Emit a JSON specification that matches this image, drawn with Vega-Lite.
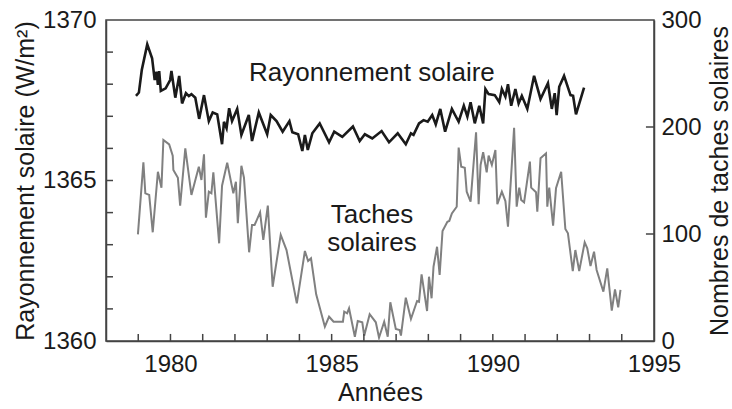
{
  "$schema": "https://vega.github.io/schema/vega-lite/v6.json",
  "width": 548,
  "height": 321,
  "autosize": "none",
  "padding": {"left": 106, "top": 20, "right": 78, "bottom": 68},
  "background": "white",
  "config": {
    "view": {"stroke": "#444", "strokeWidth": 1.5},
    "axis": {
      "labelFont": "Liberation Sans",
      "titleFont": "Liberation Sans",
      "labelFontSize": 24,
      "titleFontSize": 25,
      "titleFontWeight": "normal",
      "labelColor": "#1a1a1a",
      "titleColor": "#1a1a1a",
      "domainColor": "#444",
      "domainWidth": 1.5,
      "ticks": false,
      "grid": false,
      "labelFlush": false,
      "labelOverlap": false
    },
    "text": {"font": "Liberation Sans"}
  },
  "datasets": {
    "irr": [
      {"year": 1978.93, "irradiance": 1367.64},
      {"year": 1979.02, "irradiance": 1367.74},
      {"year": 1979.11, "irradiance": 1368.44},
      {"year": 1979.28, "irradiance": 1369.24},
      {"year": 1979.43, "irradiance": 1368.81},
      {"year": 1979.51, "irradiance": 1368.13},
      {"year": 1979.57, "irradiance": 1368.39},
      {"year": 1979.61, "irradiance": 1367.98},
      {"year": 1979.65, "irradiance": 1368.41},
      {"year": 1979.70, "irradiance": 1367.79},
      {"year": 1979.85, "irradiance": 1367.87},
      {"year": 1979.99, "irradiance": 1368.13},
      {"year": 1980.03, "irradiance": 1368.41},
      {"year": 1980.15, "irradiance": 1367.58},
      {"year": 1980.27, "irradiance": 1368.26},
      {"year": 1980.36, "irradiance": 1367.40},
      {"year": 1980.48, "irradiance": 1367.72},
      {"year": 1980.57, "irradiance": 1367.63},
      {"year": 1980.65, "irradiance": 1367.69},
      {"year": 1980.77, "irradiance": 1367.58},
      {"year": 1980.89, "irradiance": 1366.92},
      {"year": 1981.04, "irradiance": 1367.66},
      {"year": 1981.19, "irradiance": 1366.85},
      {"year": 1981.31, "irradiance": 1367.12},
      {"year": 1981.45, "irradiance": 1367.06},
      {"year": 1981.60, "irradiance": 1366.13},
      {"year": 1981.66, "irradiance": 1366.83},
      {"year": 1981.74, "irradiance": 1366.63},
      {"year": 1981.82, "irradiance": 1367.25},
      {"year": 1981.91, "irradiance": 1366.85},
      {"year": 1982.07, "irradiance": 1367.23},
      {"year": 1982.20, "irradiance": 1366.42},
      {"year": 1982.43, "irradiance": 1367.04},
      {"year": 1982.53, "irradiance": 1366.23},
      {"year": 1982.74, "irradiance": 1367.12},
      {"year": 1983.00, "irradiance": 1366.44},
      {"year": 1983.11, "irradiance": 1367.04},
      {"year": 1983.29, "irradiance": 1366.85},
      {"year": 1983.48, "irradiance": 1366.52},
      {"year": 1983.69, "irradiance": 1366.85},
      {"year": 1983.78, "irradiance": 1366.50},
      {"year": 1983.96, "irradiance": 1366.44},
      {"year": 1984.09, "irradiance": 1365.92},
      {"year": 1984.17, "irradiance": 1366.42},
      {"year": 1984.26, "irradiance": 1365.95},
      {"year": 1984.40, "irradiance": 1366.47},
      {"year": 1984.63, "irradiance": 1366.78},
      {"year": 1984.92, "irradiance": 1366.19},
      {"year": 1985.08, "irradiance": 1366.52},
      {"year": 1985.33, "irradiance": 1366.36},
      {"year": 1985.66, "irradiance": 1366.68},
      {"year": 1985.87, "irradiance": 1366.23},
      {"year": 1986.03, "irradiance": 1366.44},
      {"year": 1986.26, "irradiance": 1366.31},
      {"year": 1986.55, "irradiance": 1366.54},
      {"year": 1986.78, "irradiance": 1366.19},
      {"year": 1987.05, "irradiance": 1366.47},
      {"year": 1987.30, "irradiance": 1366.13},
      {"year": 1987.46, "irradiance": 1366.47},
      {"year": 1987.54, "irradiance": 1366.42},
      {"year": 1987.71, "irradiance": 1366.78},
      {"year": 1987.85, "irradiance": 1366.88},
      {"year": 1987.98, "irradiance": 1366.83},
      {"year": 1988.12, "irradiance": 1367.04},
      {"year": 1988.23, "irradiance": 1366.75},
      {"year": 1988.37, "irradiance": 1367.23},
      {"year": 1988.52, "irradiance": 1366.52},
      {"year": 1988.73, "irradiance": 1367.23},
      {"year": 1988.94, "irradiance": 1366.83},
      {"year": 1989.10, "irradiance": 1367.33},
      {"year": 1989.21, "irradiance": 1366.99},
      {"year": 1989.31, "irradiance": 1367.44},
      {"year": 1989.44, "irradiance": 1366.78},
      {"year": 1989.58, "irradiance": 1367.33},
      {"year": 1989.70, "irradiance": 1366.78},
      {"year": 1989.77, "irradiance": 1367.85},
      {"year": 1989.87, "irradiance": 1367.69},
      {"year": 1990.06, "irradiance": 1367.66},
      {"year": 1990.20, "irradiance": 1367.44},
      {"year": 1990.28, "irradiance": 1367.85},
      {"year": 1990.39, "irradiance": 1367.61},
      {"year": 1990.47, "irradiance": 1368.00},
      {"year": 1990.57, "irradiance": 1367.33},
      {"year": 1990.70, "irradiance": 1367.85},
      {"year": 1990.80, "irradiance": 1367.40},
      {"year": 1990.90, "irradiance": 1367.64},
      {"year": 1991.07, "irradiance": 1367.23},
      {"year": 1991.28, "irradiance": 1368.26},
      {"year": 1991.48, "irradiance": 1367.54},
      {"year": 1991.71, "irradiance": 1368.03},
      {"year": 1991.83, "irradiance": 1367.23},
      {"year": 1991.92, "irradiance": 1367.72},
      {"year": 1991.98, "irradiance": 1367.04},
      {"year": 1992.06, "irradiance": 1367.92},
      {"year": 1992.21, "irradiance": 1368.26},
      {"year": 1992.41, "irradiance": 1367.66},
      {"year": 1992.49, "irradiance": 1367.64},
      {"year": 1992.58, "irradiance": 1367.06},
      {"year": 1992.83, "irradiance": 1367.89}
    ],
    "spots": [
      {"year": 1978.99, "sunspots": 99.7},
      {"year": 1979.16, "sunspots": 167.0},
      {"year": 1979.22, "sunspots": 138.0},
      {"year": 1979.34, "sunspots": 136.5},
      {"year": 1979.45, "sunspots": 101.6},
      {"year": 1979.61, "sunspots": 158.2},
      {"year": 1979.72, "sunspots": 143.3},
      {"year": 1979.78, "sunspots": 187.9},
      {"year": 1979.96, "sunspots": 183.8},
      {"year": 1980.07, "sunspots": 173.2},
      {"year": 1980.09, "sunspots": 159.8},
      {"year": 1980.23, "sunspots": 152.6},
      {"year": 1980.30, "sunspots": 126.5},
      {"year": 1980.46, "sunspots": 180.1},
      {"year": 1980.65, "sunspots": 136.5},
      {"year": 1980.88, "sunspots": 162.9},
      {"year": 1980.96, "sunspots": 150.5},
      {"year": 1981.04, "sunspots": 174.5},
      {"year": 1981.10, "sunspots": 115.2},
      {"year": 1981.19, "sunspots": 139.5},
      {"year": 1981.27, "sunspots": 138.0},
      {"year": 1981.33, "sunspots": 157.7},
      {"year": 1981.51, "sunspots": 91.3},
      {"year": 1981.60, "sunspots": 145.1},
      {"year": 1981.76, "sunspots": 166.6},
      {"year": 1981.95, "sunspots": 138.0},
      {"year": 1982.03, "sunspots": 148.9},
      {"year": 1982.09, "sunspots": 110.0},
      {"year": 1982.20, "sunspots": 163.8},
      {"year": 1982.28, "sunspots": 152.6},
      {"year": 1982.44, "sunspots": 82.9},
      {"year": 1982.53, "sunspots": 108.4},
      {"year": 1982.61, "sunspots": 108.4},
      {"year": 1982.78, "sunspots": 120.3},
      {"year": 1982.88, "sunspots": 94.4},
      {"year": 1983.02, "sunspots": 126.5},
      {"year": 1983.17, "sunspots": 50.7},
      {"year": 1983.42, "sunspots": 99.1},
      {"year": 1983.60, "sunspots": 85.0},
      {"year": 1983.92, "sunspots": 35.2},
      {"year": 1984.17, "sunspots": 84.1},
      {"year": 1984.27, "sunspots": 74.8},
      {"year": 1984.36, "sunspots": 77.3},
      {"year": 1984.52, "sunspots": 43.6},
      {"year": 1984.79, "sunspots": 13.4},
      {"year": 1984.92, "sunspots": 22.7},
      {"year": 1985.06, "sunspots": 18.0},
      {"year": 1985.35, "sunspots": 18.0},
      {"year": 1985.39, "sunspots": 27.4},
      {"year": 1985.48, "sunspots": 25.9},
      {"year": 1985.54, "sunspots": 30.6},
      {"year": 1985.72, "sunspots": 4.0},
      {"year": 1985.81, "sunspots": 18.7},
      {"year": 1985.95, "sunspots": 17.5},
      {"year": 1986.01, "sunspots": 5.0},
      {"year": 1986.18, "sunspots": 25.0},
      {"year": 1986.37, "sunspots": 17.5},
      {"year": 1986.47, "sunspots": 3.1},
      {"year": 1986.63, "sunspots": 18.0},
      {"year": 1986.74, "sunspots": 4.0},
      {"year": 1986.82, "sunspots": 36.2},
      {"year": 1986.99, "sunspots": 11.2},
      {"year": 1987.11, "sunspots": 10.3},
      {"year": 1987.15, "sunspots": 5.0},
      {"year": 1987.30, "sunspots": 40.5},
      {"year": 1987.46, "sunspots": 20.6},
      {"year": 1987.65, "sunspots": 37.4},
      {"year": 1987.71, "sunspots": 36.7},
      {"year": 1987.79, "sunspots": 62.3},
      {"year": 1987.96, "sunspots": 28.0},
      {"year": 1988.02, "sunspots": 60.1},
      {"year": 1988.10, "sunspots": 39.9},
      {"year": 1988.16, "sunspots": 69.4},
      {"year": 1988.27, "sunspots": 88.1},
      {"year": 1988.35, "sunspots": 61.7},
      {"year": 1988.44, "sunspots": 102.8},
      {"year": 1988.59, "sunspots": 111.5},
      {"year": 1988.65, "sunspots": 112.2},
      {"year": 1988.73, "sunspots": 119.3},
      {"year": 1988.88, "sunspots": 125.5},
      {"year": 1988.94, "sunspots": 180.7},
      {"year": 1989.02, "sunspots": 162.9},
      {"year": 1989.13, "sunspots": 162.0},
      {"year": 1989.19, "sunspots": 139.5},
      {"year": 1989.31, "sunspots": 130.2},
      {"year": 1989.48, "sunspots": 195.1},
      {"year": 1989.56, "sunspots": 127.8},
      {"year": 1989.62, "sunspots": 164.5},
      {"year": 1989.70, "sunspots": 176.4},
      {"year": 1989.81, "sunspots": 157.7},
      {"year": 1989.87, "sunspots": 173.2},
      {"year": 1989.97, "sunspots": 164.5},
      {"year": 1990.08, "sunspots": 178.5},
      {"year": 1990.14, "sunspots": 127.8},
      {"year": 1990.28, "sunspots": 139.5},
      {"year": 1990.39, "sunspots": 130.8},
      {"year": 1990.47, "sunspots": 106.8},
      {"year": 1990.66, "sunspots": 199.3},
      {"year": 1990.74, "sunspots": 125.5},
      {"year": 1990.82, "sunspots": 143.3},
      {"year": 1990.88, "sunspots": 131.8},
      {"year": 1990.97, "sunspots": 129.6},
      {"year": 1991.15, "sunspots": 167.6},
      {"year": 1991.19, "sunspots": 143.3},
      {"year": 1991.34, "sunspots": 139.0},
      {"year": 1991.38, "sunspots": 120.8},
      {"year": 1991.48, "sunspots": 170.8},
      {"year": 1991.65, "sunspots": 175.4},
      {"year": 1991.69, "sunspots": 125.5},
      {"year": 1991.75, "sunspots": 143.3},
      {"year": 1991.87, "sunspots": 107.8},
      {"year": 1991.96, "sunspots": 142.7},
      {"year": 1992.12, "sunspots": 158.2},
      {"year": 1992.25, "sunspots": 104.7},
      {"year": 1992.33, "sunspots": 100.7},
      {"year": 1992.48, "sunspots": 65.4},
      {"year": 1992.56, "sunspots": 85.0},
      {"year": 1992.68, "sunspots": 65.4},
      {"year": 1992.85, "sunspots": 92.2},
      {"year": 1992.93, "sunspots": 86.6},
      {"year": 1993.03, "sunspots": 70.1},
      {"year": 1993.14, "sunspots": 83.5},
      {"year": 1993.22, "sunspots": 66.4},
      {"year": 1993.43, "sunspots": 46.1},
      {"year": 1993.55, "sunspots": 67.9},
      {"year": 1993.69, "sunspots": 28.3},
      {"year": 1993.79, "sunspots": 48.3},
      {"year": 1993.89, "sunspots": 31.5},
      {"year": 1993.96, "sunspots": 47.7}
    ],
    "yearTicks": [
      {"year": 1979}, {"year": 1980}, {"year": 1981}, {"year": 1982}, {"year": 1983}, {"year": 1984}, {"year": 1985}, {"year": 1986},
      {"year": 1987}, {"year": 1988}, {"year": 1989}, {"year": 1990}, {"year": 1991}, {"year": 1992}, {"year": 1993}, {"year": 1994}
    ],
    "irrTicks": [
      {"irradiance": 1361}, {"irradiance": 1362}, {"irradiance": 1363}, {"irradiance": 1364}, {"irradiance": 1365},
      {"irradiance": 1366}, {"irradiance": 1367}, {"irradiance": 1368}, {"irradiance": 1369}
    ],
    "spotTicks": [
      {"sunspots": 100}, {"sunspots": 200}
    ]
  },
  "layer": [
    {
      "layer": [
        {
          "data": {"name": "spots"},
          "mark": {"type": "line", "color": "#808080", "strokeWidth": 2},
          "encoding": {
            "x": {
              "field": "year", "type": "quantitative",
              "scale": {"domain": [1978, 1995], "nice": false, "zero": false},
              "axis": {"orient": "bottom", "title": "Années", "values": [1980, 1985, 1990, 1995], "format": "d", "ticks": false, "labelPadding": 11, "titlePadding": 4, "labelFlush": false, "labelOverlap": false}
            },
            "y": {
              "field": "sunspots", "type": "quantitative",
              "scale": {"domain": [0, 300], "nice": false},
              "axis": {"orient": "right", "title": "Nombres de taches solaires", "titleAngle": -90, "titleBaseline": "top", "values": [0, 100, 200, 300], "format": "d", "ticks": false, "labelPadding": 7, "titlePadding": 6, "labelFlush": false, "labelOverlap": false}
            }
          }
        },
        {
          "data": {"name": "spotTicks"},
          "mark": {"type": "rule", "color": "#444", "strokeWidth": 1.5},
          "encoding": {
            "x": {
              "datum": 1995, "type": "quantitative",
              "axis": {"orient": "bottom", "title": "Années", "values": [1980, 1985, 1990, 1995], "format": "d", "ticks": false, "labelPadding": 11, "titlePadding": 4, "labelFlush": false, "labelOverlap": false}
            },
            "x2": {"datum": 1994.75},
            "y": {
              "field": "sunspots", "type": "quantitative",
              "axis": {"orient": "right", "title": "Nombres de taches solaires", "titleAngle": -90, "titleBaseline": "top", "values": [0, 100, 200, 300], "format": "d", "ticks": false, "labelPadding": 7, "titlePadding": 6, "labelFlush": false, "labelOverlap": false}
            }
          }
        }
      ]
    },
    {
      "layer": [
        {
          "data": {"name": "irr"},
          "mark": {"type": "line", "color": "#1a1a1a", "strokeWidth": 2.6},
          "encoding": {
            "x": {
              "field": "year", "type": "quantitative",
              "axis": {"orient": "bottom", "title": "Années", "values": [1980, 1985, 1990, 1995], "format": "d", "ticks": false, "labelPadding": 11, "titlePadding": 4, "labelFlush": false, "labelOverlap": false}
            },
            "y": {
              "field": "irradiance", "type": "quantitative",
              "scale": {"domain": [1360, 1370], "nice": false, "zero": false},
              "axis": {"orient": "left", "title": "Rayonnement solaire (W/m²)", "values": [1360, 1365, 1370], "format": "d", "ticks": false, "labelPadding": 10, "titlePadding": 4, "labelFlush": false, "labelOverlap": false}
            }
          }
        },
        {
          "data": {"name": "yearTicks"},
          "mark": {"type": "rule", "color": "#444", "strokeWidth": 1.5},
          "encoding": {
            "x": {
              "field": "year", "type": "quantitative",
              "axis": {"orient": "bottom", "title": "Années", "values": [1980, 1985, 1990, 1995], "format": "d", "ticks": false, "labelPadding": 11, "titlePadding": 4, "labelFlush": false, "labelOverlap": false}
            },
            "y": {
              "datum": 1360, "type": "quantitative",
              "axis": {"orient": "left", "title": "Rayonnement solaire (W/m²)", "values": [1360, 1365, 1370], "format": "d", "ticks": false, "labelPadding": 10, "titlePadding": 4, "labelFlush": false, "labelOverlap": false}
            },
            "y2": {"datum": 1360.22}
          }
        },
        {
          "data": {"name": "irrTicks"},
          "mark": {"type": "rule", "color": "#444", "strokeWidth": 1.5},
          "encoding": {
            "x": {
              "datum": 1978, "type": "quantitative",
              "axis": {"orient": "bottom", "title": "Années", "values": [1980, 1985, 1990, 1995], "format": "d", "ticks": false, "labelPadding": 11, "titlePadding": 4, "labelFlush": false, "labelOverlap": false}
            },
            "x2": {"datum": 1978.217},
            "y": {
              "field": "irradiance", "type": "quantitative",
              "axis": {"orient": "left", "title": "Rayonnement solaire (W/m²)", "values": [1360, 1365, 1370], "format": "d", "ticks": false, "labelPadding": 10, "titlePadding": 4, "labelFlush": false, "labelOverlap": false}
            }
          }
        },
        {
          "data": {"values": [
            {"label": "Rayonnement solaire", "year": 1986.25, "irradiance": 1368.35},
            {"label": "Taches", "year": 1986.25, "irradiance": 1363.92},
            {"label": "solaires", "year": 1986.25, "irradiance": 1363.05}
          ]},
          "mark": {"type": "text", "fontSize": 26, "color": "#1a1a1a", "align": "center", "baseline": "middle"},
          "encoding": {
            "x": {
              "field": "year", "type": "quantitative",
              "axis": {"orient": "bottom", "title": "Années", "values": [1980, 1985, 1990, 1995], "format": "d", "ticks": false, "labelPadding": 11, "titlePadding": 4, "labelFlush": false, "labelOverlap": false}
            },
            "y": {
              "field": "irradiance", "type": "quantitative",
              "axis": {"orient": "left", "title": "Rayonnement solaire (W/m²)", "values": [1360, 1365, 1370], "format": "d", "ticks": false, "labelPadding": 10, "titlePadding": 4, "labelFlush": false, "labelOverlap": false}
            },
            "text": {"field": "label"}
          }
        }
      ]
    }
  ],
  "resolve": {"scale": {"y": "independent"}}
}
